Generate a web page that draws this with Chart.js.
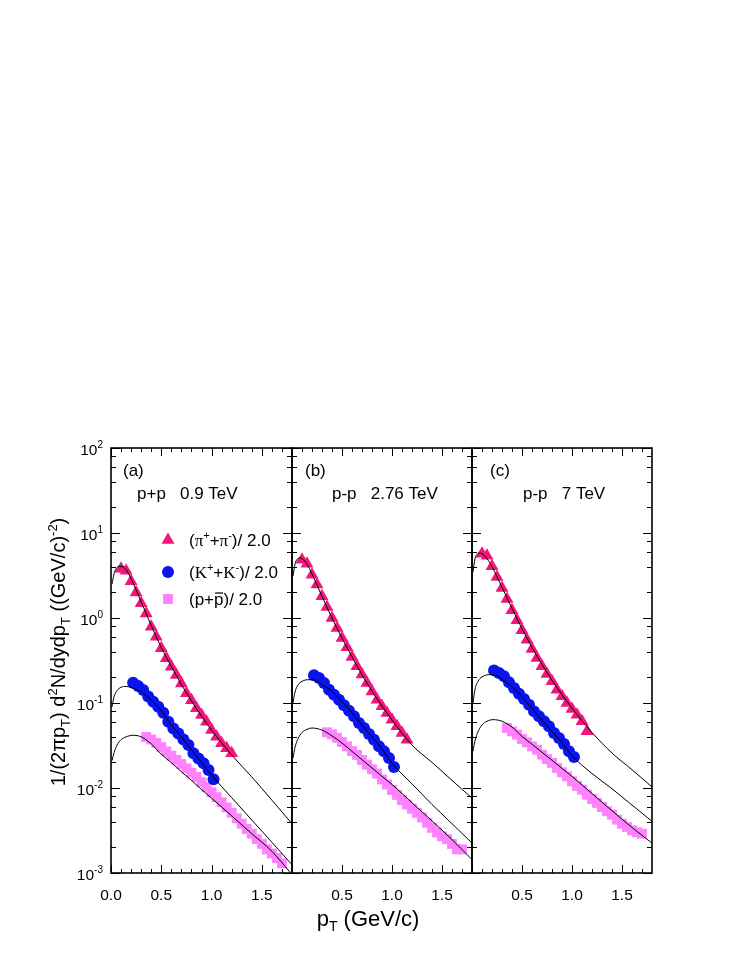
<!DOCTYPE html>
<html lang="en">
<head>
<meta charset="UTF-8">
<title>Identified hadron spectra</title>
<script src="https://cdn.jsdelivr.net/npm/chart.js@4.4.1/dist/chart.umd.min.js"></script>
<style>
  html, body { margin: 0; padding: 0; background: #fff; }
  #wrap { position: relative; width: 741px; height: 959px; }
  #wrap canvas { position: absolute; left: 0; top: 0; }
</style>
</head>
<body>
<div id="wrap">
  <canvas id="panelA" width="741" height="959"></canvas>
  <canvas id="panelB" width="741" height="959"></canvas>
  <canvas id="panelC" width="741" height="959"></canvas>
</div>
<script>
// ---- data ----
const pionPtA = [0.10,0.15,0.20,0.25,0.30,0.35,0.40,0.45,0.50,0.55,0.60,0.65,0.70,0.75,0.80,0.85,0.90,0.95,1.00,1.05,1.10,1.15,1.20];
const pionA   = [3.8,3.6,2.7,2.0,1.49,1.13,0.79,0.60,0.44,0.336,0.267,0.213,0.170,0.130,0.108,0.0865,0.0723,0.0603,0.0481,0.0402,0.0335,0.0293,0.0256];
const pionPtBC = [0.10,0.15,0.20,0.25,0.30,0.35,0.40,0.45,0.50,0.55,0.60,0.65,0.70,0.75,0.80,0.85,0.90,0.95,1.00,1.05,1.10,1.15];
const pionB   = [4.86,4.36,3.23,2.47,1.80,1.35,1.0,0.762,0.582,0.452,0.348,0.270,0.216,0.172,0.137,0.109,0.0914,0.0762,0.0637,0.0531,0.0444,0.037];
const pionC   = [5.71,5.41,4.05,3.04,2.25,1.67,1.23,0.939,0.716,0.556,0.432,0.339,0.270,0.219,0.180,0.1435,0.1198,0.100,0.085,0.0729,0.0609,0.0464];

const kaonPt = [0.22,0.27,0.32,0.37,0.42,0.47,0.52,0.57,0.62,0.67,0.72,0.77,0.82,0.87,0.92,0.97,1.02];
const kaonA  = [0.173,0.158,0.142,0.119,0.1035,0.0904,0.0768,0.0602,0.0502,0.0439,0.0373,0.0320,0.0256,0.0223,0.0195,0.0163,0.0127];
const kaonB  = [0.2115,0.197,0.172,0.1435,0.1253,0.1094,0.0939,0.0813,0.0697,0.0582,0.0508,0.0432,0.0370,0.0309,0.0270,0.0225,0.0177];
const kaonC  = [0.242,0.2254,0.206,0.175,0.150,0.1288,0.1114,0.0955,0.0797,0.0697,0.0609,0.0531,0.0444,0.0387,0.0330,0.0270,0.0232];

const protonPt = [0.35,0.40,0.45,0.50,0.55,0.60,0.65,0.70,0.75,0.80,0.85,0.90,0.95,1.00,1.05,1.10,1.15,1.20,1.25,1.30,1.35,1.40,1.45,1.50,1.55,1.60,1.65,1.70];
const protonA  = [0.0398,0.0372,0.0339,0.0302,0.0269,0.0240,0.0214,0.0191,0.0170,0.0151,0.0135,0.0117,0.0102,0.0089,0.0078,0.0068,0.0059,0.0051,0.0044,0.0038,0.0033,0.0029,0.0025,0.0022,0.0019,0.0017,0.0015,0.0013];
const protonB  = [0.0452,0.0427,0.0389,0.0347,0.0309,0.0272,0.0245,0.0214,0.0188,0.0166,0.0148,0.0126,0.0110,0.0095,0.0083,0.0072,0.0064,0.0057,0.0051,0.0045,0.0039,0.0034,0.0030,0.0027,0.0025,0.0022,0.0019,0.0019];
const protonC  = [0.0508,0.0464,0.0424,0.0377,0.0344,0.0309,0.0282,0.0247,0.0219,0.0197,0.0172,0.0153,0.0137,0.0120,0.0106,0.00955,0.00835,0.00742,0.00667,0.00597,0.00531,0.00485,0.00424,0.0038,0.00347,0.00318,0.00302,0.0029];

// fit curves (black lines)
const fitPtPiA = [0.01,0.03,0.05,0.08,0.10,0.15,0.20,0.30,0.40,0.50,0.60,0.70,0.80,0.90,1.00,1.20,1.40,1.60,1.80];
const fitPiA   = [2.5,3.3,3.8,4.05,4.05,3.7,2.9,1.55,0.82,0.45,0.27,0.165,0.106,0.070,0.048,0.0245,0.0135,0.0072,0.0038];
const fitPtKA  = [0.01,0.03,0.06,0.10,0.15,0.20,0.30,0.40,0.50,0.60,0.70,0.80,0.90,1.00,1.20,1.40,1.60,1.80];
const fitKA    = [0.09,0.118,0.14,0.153,0.157,0.152,0.135,0.108,0.081,0.055,0.040,0.028,0.020,0.0142,0.0077,0.0042,0.0023,0.00125];
const fitPtPA  = [0.01,0.03,0.06,0.10,0.15,0.22,0.30,0.40,0.50,0.60,0.70,0.80,0.90,1.00,1.20,1.40,1.60,1.78];
const fitPA    = [0.021,0.026,0.032,0.037,0.040,0.0417,0.040,0.033,0.025,0.0199,0.0155,0.0123,0.0096,0.0076,0.0047,0.0029,0.0018,0.00102];

const fitPtPiB = [0.01,0.03,0.05,0.08,0.10,0.15,0.20,0.30,0.40,0.50,0.60,0.70,0.80,0.90,1.00,1.20,1.40,1.60,1.80];
const fitPiB   = [3.1,4.3,4.9,5.08,5.0,4.3,3.3,1.8,1.0,0.58,0.35,0.215,0.138,0.092,0.063,0.032,0.020,0.0123,0.0076];
const fitPtKB  = [0.01,0.03,0.06,0.10,0.17,0.25,0.30,0.40,0.50,0.60,0.70,0.80,0.90,1.00,1.20,1.40,1.60,1.80];
const fitKB    = [0.10,0.135,0.163,0.18,0.188,0.182,0.165,0.138,0.104,0.077,0.055,0.040,0.0288,0.0195,0.0112,0.0064,0.0038,0.00225];
const fitPtPB  = [0.01,0.03,0.06,0.10,0.15,0.20,0.30,0.40,0.50,0.60,0.70,0.80,0.90,1.00,1.20,1.40,1.60,1.80];
const fitPB    = [0.0225,0.030,0.038,0.045,0.049,0.0508,0.048,0.041,0.0338,0.027,0.0215,0.0172,0.0137,0.011,0.0067,0.0041,0.00247,0.00144];

const fitPtPiC = [0.01,0.03,0.05,0.07,0.10,0.15,0.20,0.30,0.40,0.50,0.60,0.70,0.80,0.90,1.00,1.20,1.40,1.60,1.80];
const fitPiC   = [3.5,5.0,5.6,5.82,5.7,5.0,4.0,2.3,1.3,0.75,0.45,0.285,0.185,0.125,0.087,0.045,0.0258,0.0164,0.0103];
const fitPtKC  = [0.01,0.03,0.06,0.10,0.19,0.25,0.30,0.40,0.50,0.60,0.70,0.80,0.90,1.00,1.20,1.40,1.60,1.80];
const fitKC    = [0.10,0.145,0.18,0.203,0.216,0.21,0.19,0.155,0.118,0.086,0.063,0.046,0.034,0.024,0.0148,0.0098,0.0063,0.00405];
const fitPtPC  = [0.01,0.03,0.06,0.10,0.15,0.21,0.30,0.40,0.50,0.60,0.70,0.80,0.90,1.00,1.20,1.40,1.60,1.80];
const fitPC    = [0.027,0.036,0.046,0.055,0.061,0.0637,0.061,0.052,0.0405,0.0327,0.0263,0.0212,0.017,0.0137,0.0086,0.0054,0.00343,0.00225];

// axes / labels
const xMin = 0, xMax = 1.8;
const yMin = 1e-3, yMax = 1e2;
const xMinorTicks = [0.1,0.2,0.3,0.4,0.6,0.7,0.8,0.9,1.1,1.2,1.3,1.4,1.6,1.7];
const xMajorTicks = [0.0,0.5,1.0,1.5];
const xLabelsA = ['0.0','0.5','1.0','1.5'];
const xLabelsBC = ['0.5','1.0','1.5'];
const yDecades = [-3,-2,-1,0,1,2];
const yMinorMantissa = [2,4,6,8];
const panelTags = ['(a)','(b)','(c)'];
const panelSystems = ['p+p   0.9 TeV','p-p   2.76 TeV','p-p   7 TeV'];

// ---- styling ----
const SANS = '"Liberation Sans", Arial, sans-serif';
const SERIF = '"Liberation Serif", "Times New Roman", serif';
const PION_COLOR = '#F2167C';
const KAON_COLOR = '#0A14EE';
const PROTON_COLOR = '#FF82FF';
const PLOT_TOP = 448, PLOT_BOTTOM = 873;

function pts(xs, ys) { return xs.map((x, i) => ({ x: x, y: ys[i] })); }

function drawRich(ctx, parts, x, y, size, align) {
  const items = parts.map(p => {
    const kind = p[1] || '';
    const s = (kind === 'sup' || kind === 'sub') ? Math.round(size * 0.64) : size;
    const font = s + 'px ' + (p[2] || SANS);
    ctx.font = font;
    return { t: p[0], kind: kind, font: font, w: ctx.measureText(p[0]).width };
  });
  const total = items.reduce((s, it) => s + it.w, 0);
  let cx = align === 'center' ? x - total / 2 : (align === 'right' ? x - total : x);
  ctx.textAlign = 'left';
  ctx.textBaseline = 'alphabetic';
  items.forEach(it => {
    ctx.font = it.font;
    let dy = 0;
    if (it.kind === 'sup') dy = -size * 0.42;
    if (it.kind === 'sub') dy = size * 0.24;
    ctx.fillText(it.t, cx, y + dy);
    if (it.kind === 'bar') ctx.fillRect(cx + 1, y - size * 0.74, it.w - 1.5, 1.2);
    cx += it.w;
  });
  return total;
}

function line(ctx, x1, y1, x2, y2) {
  ctx.beginPath(); ctx.moveTo(x1, y1); ctx.lineTo(x2, y2); ctx.stroke();
}

// frame, inward ticks and x tick labels for every panel
const framePlugin = {
  id: 'frame',
  afterDraw(chart, args, opts) {
    const ctx = chart.ctx, a = chart.chartArea;
    const x = chart.scales.x, y = chart.scales.y;
    ctx.save();
    ctx.strokeStyle = '#000';
    ctx.fillStyle = '#000';
    ctx.lineWidth = 1;
    xMajorTicks.forEach(v => {
      const px = Math.round(x.getPixelForValue(v)) + 0.5;
      line(ctx, px, a.bottom, px, a.bottom - 8);
      line(ctx, px, a.top, px, a.top + 8);
    });
    xMinorTicks.forEach(v => {
      const px = Math.round(x.getPixelForValue(v)) + 0.5;
      line(ctx, px, a.bottom, px, a.bottom - 4);
      line(ctx, px, a.top, px, a.top + 4);
    });
    yDecades.forEach(e => {
      const py = Math.round(y.getPixelForValue(Math.pow(10, e))) + 0.5;
      line(ctx, a.left, py, a.left + 9, py);
      line(ctx, a.right, py, a.right - 9, py);
      if (e < 2) {
        yMinorMantissa.forEach(m => {
          const qy = Math.round(y.getPixelForValue(m * Math.pow(10, e))) + 0.5;
          line(ctx, a.left, qy, a.left + 5, qy);
          line(ctx, a.right, qy, a.right - 5, qy);
        });
      }
    });
    ctx.lineWidth = 1.6;
    ctx.strokeRect(a.left, a.top, a.right - a.left, a.bottom - a.top);

    // x tick labels
    const labels = opts.labels;
    labels.forEach(lab => {
      drawRich(ctx, [[lab]], x.getPixelForValue(Number(lab)), a.bottom + 27, 15.5, 'center');
    });
    // panel tag and system text
    drawRich(ctx, [[opts.tag]], opts.tagX, 476, 17, 'left');
    drawRich(ctx, [[opts.system]], opts.sysX, 499, 17, 'left');
    ctx.restore();
  }
};

// axis titles, y tick labels and legend (drawn once, on panel a)
const pageTextPlugin = {
  id: 'pageText',
  afterDraw(chart) {
    const ctx = chart.ctx, y = chart.scales.y;
    ctx.save();
    ctx.fillStyle = '#000';
    yDecades.forEach(e => {
      const py = y.getPixelForValue(Math.pow(10, e));
      drawRich(ctx, [['10'], [String(e), 'sup']], 103, py + 7, 15.5, 'right');
    });
    // x title
    drawRich(ctx, [['p'], ['T', 'sub'], [' (GeV/c)']], 368, 926, 22, 'center');
    // y title
    ctx.save();
    ctx.translate(58, 652);
    ctx.rotate(-Math.PI / 2);
    drawRich(ctx, [['1/(2\u03c0p'], ['T', 'sub'], [') d'], ['2', 'sup'], ['N/dydp'], ['T', 'sub'],
                   [' ((GeV/c)'], ['-2', 'sup'], [')']], 0, 7, 20, 'center');
    ctx.restore();
    // legend
    const rows = [
      { y: 540, color: PION_COLOR, style: 'triangle', r: 7.5,
        text: [['('], ['\u03c0', '', SERIF], ['+', 'sup'], ['+'], ['\u03c0', '', SERIF], ['-', 'sup'], [')/ 2.0']] },
      { y: 572, color: KAON_COLOR, style: 'circle', r: 6,
        text: [['('], ['K', '', SERIF], ['+', 'sup'], ['+'], ['K', '', SERIF], ['-', 'sup'], [')/ 2.0']] },
      { y: 599, color: PROTON_COLOR, style: 'rect', r: 7,
        text: [['(p+'], ['p', 'bar'], [')/ 2.0']] }
    ];
    rows.forEach(row => {
      ctx.fillStyle = row.color;
      Chart.helpers.drawPoint(ctx, { pointStyle: row.style, radius: row.r, rotation: 0, borderWidth: 0 }, 168, row.y);
      ctx.fillStyle = '#000';
      drawRich(ctx, row.text, 189, row.y + 6, 17, 'left');
    });
    ctx.restore();
  }
};

function markerSet(data, color, style, r) {
  return { data: data, showLine: false, pointStyle: style, pointRadius: r,
           pointBackgroundColor: color, pointBorderWidth: 0, order: 2 };
}
function curveSet(data) {
  return { data: data, showLine: true, pointRadius: 0, borderColor: '#000', borderWidth: 1,
           cubicInterpolationMode: 'monotone', fill: false, order: 1 };
}

function makePanel(id, left, right, sets, frameOpts, extra) {
  return new Chart(document.getElementById(id), {
    type: 'line',
    data: { datasets: sets },
    plugins: extra ? [framePlugin, extra] : [framePlugin],
    options: {
      responsive: false,
      animation: false,
      devicePixelRatio: 1,
      layout: { padding: { left: left, right: 741 - right, top: PLOT_TOP, bottom: 959 - PLOT_BOTTOM } },
      plugins: { legend: { display: false }, tooltip: { enabled: false }, frame: frameOpts },
      scales: {
        x: { type: 'linear', min: xMin, max: xMax, display: false },
        y: { type: 'logarithmic', min: yMin, max: yMax, display: false }
      }
    }
  });
}

makePanel('panelA', 111, 292, [
  curveSet(pts(fitPtPiA, fitPiA)), curveSet(pts(fitPtKA, fitKA)), curveSet(pts(fitPtPA, fitPA)),
  markerSet(pts(pionPtA, pionA), PION_COLOR, 'triangle', 7.5),
  markerSet(pts(kaonPt, kaonA), KAON_COLOR, 'circle', 6),
  markerSet(pts(protonPt, protonA), PROTON_COLOR, 'rect', 7)
], { labels: xLabelsA, tag: panelTags[0], system: panelSystems[0], tagX: 123, sysX: 137 }, pageTextPlugin);

makePanel('panelB', 292, 472, [
  curveSet(pts(fitPtPiB, fitPiB)), curveSet(pts(fitPtKB, fitKB)), curveSet(pts(fitPtPB, fitPB)),
  markerSet(pts(pionPtBC, pionB), PION_COLOR, 'triangle', 7.5),
  markerSet(pts(kaonPt, kaonB), KAON_COLOR, 'circle', 6),
  markerSet(pts(protonPt, protonB), PROTON_COLOR, 'rect', 7)
], { labels: xLabelsBC, tag: panelTags[1], system: panelSystems[1], tagX: 305, sysX: 332 });

makePanel('panelC', 472, 652, [
  curveSet(pts(fitPtPiC, fitPiC)), curveSet(pts(fitPtKC, fitKC)), curveSet(pts(fitPtPC, fitPC)),
  markerSet(pts(pionPtBC, pionC), PION_COLOR, 'triangle', 7.5),
  markerSet(pts(kaonPt, kaonC), KAON_COLOR, 'circle', 6),
  markerSet(pts(protonPt, protonC), PROTON_COLOR, 'rect', 7)
], { labels: xLabelsBC, tag: panelTags[2], system: panelSystems[2], tagX: 490, sysX: 523 });
</script>
</body>
</html>
